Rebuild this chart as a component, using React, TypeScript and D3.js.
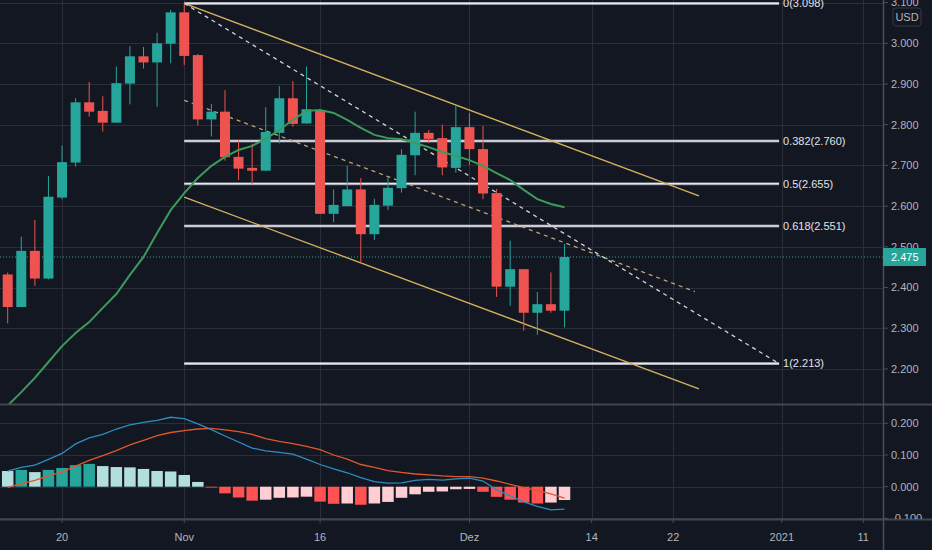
import * as d3 from "d3";

// daily candles, index 0 = first visible session
const opens = [2.432, 2.352, 2.49, 2.422, 2.621, 2.707, 2.855, 2.834, 2.805, 2.901, 2.968, 2.953, 2.999, 3.076, 2.971, 2.813, 2.832, 2.721, 2.694, 2.687, 2.78, 2.865, 2.803, 2.836, 2.581, 2.6, 2.641, 2.531, 2.601, 2.644, 2.725, 2.78, 2.767, 2.694, 2.794, 2.74, 2.632, 2.402, 2.445, 2.338, 2.359, 2.343];
const highs = [2.437, 2.525, 2.566, 2.674, 2.749, 2.865, 2.905, 2.87, 2.943, 2.993, 2.991, 3.026, 3.082, 3.098, 2.974, 2.851, 2.885, 2.761, 2.753, 2.843, 2.895, 2.907, 2.943, 2.836, 2.641, 2.699, 2.669, 2.618, 2.671, 2.74, 2.832, 2.787, 2.8, 2.848, 2.829, 2.797, 2.642, 2.515, 2.445, 2.389, 2.437, 2.507];
const lows = [2.312, 2.352, 2.404, 2.42, 2.617, 2.697, 2.82, 2.783, 2.805, 2.85, 2.938, 2.844, 2.951, 2.947, 2.798, 2.771, 2.712, 2.664, 2.654, 2.687, 2.754, 2.795, 2.803, 2.581, 2.56, 2.6, 2.461, 2.517, 2.59, 2.633, 2.676, 2.754, 2.676, 2.682, 2.701, 2.617, 2.377, 2.355, 2.294, 2.283, 2.338, 2.302];
const closes = [2.352, 2.49, 2.422, 2.623, 2.708, 2.855, 2.832, 2.805, 2.902, 2.968, 2.953, 3.0, 3.076, 2.969, 2.813, 2.832, 2.72, 2.692, 2.687, 2.782, 2.865, 2.802, 2.838, 2.581, 2.603, 2.641, 2.531, 2.603, 2.645, 2.726, 2.78, 2.765, 2.695, 2.794, 2.74, 2.631, 2.402, 2.445, 2.338, 2.359, 2.343, 2.475];
const movingAvg = [2.11, 2.143, 2.178, 2.217, 2.256, 2.288, 2.315, 2.35, 2.384, 2.431, 2.475, 2.534, 2.59, 2.632, 2.669, 2.699, 2.721, 2.738, 2.748, 2.765, 2.787, 2.812, 2.834, 2.836, 2.829, 2.812, 2.792, 2.775, 2.767, 2.764, 2.755, 2.745, 2.733, 2.723, 2.713, 2.699, 2.681, 2.664, 2.64, 2.617, 2.605, 2.597];

// MACD pane
const macdLine = [0.0495, 0.061, 0.068, 0.086, 0.105, 0.135, 0.154, 0.165, 0.182, 0.195, 0.203, 0.209, 0.219, 0.215, 0.198, 0.18, 0.16, 0.141, 0.122, 0.113, 0.108, 0.103, 0.087, 0.07, 0.056, 0.044, 0.029, 0.016, 0.011, 0.012, 0.02, 0.023, 0.021, 0.025, 0.027, 0.018, -0.01, -0.029, -0.048, -0.062, -0.073, -0.071];
const signalLine = [-0.002, 0.009, 0.02, 0.034, 0.046, 0.065, 0.083, 0.098, 0.114, 0.132, 0.146, 0.161, 0.171, 0.177, 0.182, 0.184, 0.179, 0.174, 0.165, 0.152, 0.143, 0.136, 0.127, 0.117, 0.1, 0.087, 0.07, 0.061, 0.051, 0.045, 0.04, 0.037, 0.034, 0.032, 0.032, 0.027, 0.018, 0.007, -0.003, -0.012, -0.023, -0.036];
const histogram = [0.0495, 0.053, 0.046, 0.053, 0.059, 0.068, 0.072, 0.065, 0.062, 0.061, 0.056, 0.0495, 0.048, 0.037, 0.015, -0.002, -0.021, -0.034, -0.044, -0.041, -0.035, -0.034, -0.0315, -0.047, -0.054, -0.053, -0.057, -0.053, -0.048, -0.035, -0.024, -0.016, -0.015, -0.008, -0.007, -0.016, -0.032, -0.041, -0.05, -0.053, -0.05, -0.042];
const histogramBefore = 0.052;

const dateTicks = [
  { i: 4, label: "20" },
  { i: 13, label: "Nov" },
  { i: 23, label: "16" },
  { i: 34, label: "Dez" },
  { i: 43, label: "14" },
  { i: 49, label: "22" },
  { i: 57, label: "2021" },
  { i: 63, label: "11" },
];
const priceTicks = [2.2, 2.3, 2.4, 2.5, 2.6, 2.7, 2.8, 2.9, 3.0, 3.1];
const macdTicks = [-0.1, 0, 0.1, 0.2];

// drawings
const fibLevels = [0, 0.382, 0.5, 0.618, 1];
const fibPrices = [3.098, 2.76, 2.655, 2.551, 2.213];
const fibRange = [13, 56.8];
const channelUpper = [{ i: 13, p: 3.098 }, { i: 50.9, p: 2.625 }];
const channelLower = [{ i: 13, p: 2.622 }, { i: 50.9, p: 2.151 }];
const channelMid = [{ i: 13, p: 2.86 }, { i: 50.6, p: 2.39 }];
const fanLine = [{ i: 13, p: 3.098 }, { i: 56.8, p: 2.213 }];
const lastPrice = 2.475;

const W = 932;
const H = 550;
const axisX = 883;
const paneBottom = 404;
const macdTop = 406;
const macdBottom = 519;

const BG = "#131722";
const GRID = "#2a2e39";
const TEXT = "#b2b5be";
const UP = "#26a69a";
const DOWN = "#ef5350";
const FONT = "'Liberation Sans', Arial, sans-serif";

export default function App() {
  const x = d3.scaleLinear().domain([0, 41]).range([7.7, 564.5]);
  const y = d3.scaleLinear().domain([2.2, 3.0]).range([368.9, 43.3]);
  const ym = d3.scaleLinear().domain([-0.1, 0.2]).range([518.4, 423.3]);
  const bodyW = 10;
  const barW = 11.5;

  const maPath = d3
    .line<number>()
    .x((_, i) => x(i))
    .y((d) => y(d))(movingAvg);
  const macdPath = d3
    .line<number>()
    .x((_, i) => x(i))
    .y((d) => ym(d))(macdLine);
  const signalPath = d3
    .line<number>()
    .x((_, i) => x(i))
    .y((d) => ym(d))(signalLine);

  const trend = (pts: { i: number; p: number }[]) =>
    d3
      .line<{ i: number; p: number }>()
      .x((d) => x(d.i))
      .y((d) => y(d.p))(pts) ?? "";

  const histColor = (v: number, i: number) => {
    const prev = i === 0 ? histogramBefore : histogram[i - 1];
    if (v >= 0) return v > prev ? "#26a69a" : "#b2dfdb";
    return v < prev ? "#ff5252" : "#ffcdd2";
  };

  return (
    <div style={{ position: "fixed", left: 0, top: 0 }}>
      <svg width={W} height={H} style={{ display: "block", background: BG }} fontFamily={FONT}>
        <defs>
          <clipPath id="pricePane">
            <rect x={0} y={0} width={axisX} height={paneBottom} />
          </clipPath>
          <clipPath id="macdPane">
            <rect x={0} y={macdTop} width={axisX} height={macdBottom - macdTop} />
          </clipPath>
          <clipPath id="axisArea">
            <rect x={axisX} y={0} width={W - axisX} height={macdBottom} />
          </clipPath>
        </defs>

        {/* grid */}
        <g stroke={GRID} strokeWidth={1}>
          {dateTicks.map((t) => (
            <line key={t.label} x1={Math.round(x(t.i)) + 0.5} x2={Math.round(x(t.i)) + 0.5} y1={0} y2={macdBottom} />
          ))}
          {priceTicks.map((p) => (
            <line key={p} x1={0} x2={axisX} y1={Math.round(y(p)) + 0.5} y2={Math.round(y(p)) + 0.5} />
          ))}
          {macdTicks.map((v) => (
            <line key={v} x1={0} x2={axisX} y1={Math.round(ym(v)) + 0.5} y2={Math.round(ym(v)) + 0.5} />
          ))}
        </g>

        {/* price pane */}
        <g clipPath="url(#pricePane)">
          {/* fibonacci retracement */}
          {fibPrices.map((p, k) => (
            <g key={k}>
              <line x1={x(fibRange[0])} x2={x(fibRange[1])} y1={y(p)} y2={y(p)} stroke="#787b86" strokeWidth={3} />
              <line x1={x(fibRange[0])} x2={x(fibRange[1])} y1={y(p)} y2={y(p)} stroke="#e6e8ee" strokeWidth={1.6} />
            </g>
          ))}
          {fibPrices.map((p, k) => (
            <text key={k} x={x(fibRange[1]) + 4} y={y(p)} dy="0.35em" fontSize={11} fill="#e0e3eb">
              {`${fibLevels[k]}(${p.toFixed(3)})`}
            </text>
          ))}

          <line x1={0} x2={axisX} y1={y(lastPrice)} y2={y(lastPrice)} stroke={UP} strokeWidth={1} strokeDasharray="1 2" />

          {/* channel */}
          <path d={trend(channelUpper)} stroke="#d4b45c" strokeWidth={1.3} fill="none" />
          <path d={trend(channelLower)} stroke="#d4b45c" strokeWidth={1.3} fill="none" />
          <path d={trend(channelMid)} stroke="#bda572" strokeWidth={1.3} strokeDasharray="4 4" fill="none" />
          <path d={trend(fanLine)} stroke="#d1d4dc" strokeWidth={1.3} strokeDasharray="4 4" fill="none" />

          {/* candles */}
          {opens.map((o, i) => {
            const c = closes[i];
            const col = c >= o ? UP : DOWN;
            const top = y(Math.max(o, c));
            const bot = y(Math.min(o, c));
            return (
              <g key={i}>
                <line x1={x(i)} x2={x(i)} y1={y(highs[i])} y2={y(lows[i])} stroke={col} strokeWidth={1} />
                <rect x={x(i) - bodyW / 2} y={top} width={bodyW} height={Math.max(1, bot - top)} fill={col} />
              </g>
            );
          })}

          <path d={maPath ?? ""} stroke="#3c9b5b" strokeWidth={2} fill="none" />
        </g>

        {/* macd pane */}
        <g clipPath="url(#macdPane)">
          {histogram.map((v, i) => (
            <rect
              key={i}
              x={x(i) - barW / 2}
              y={Math.min(ym(v), ym(0))}
              width={barW}
              height={Math.max(0.8, Math.abs(ym(v) - ym(0)))}
              fill={histColor(v, i)}
            />
          ))}
          <path d={signalPath ?? ""} stroke="#e0582a" strokeWidth={1.3} fill="none" />
          <path d={macdPath ?? ""} stroke="#2a8ec4" strokeWidth={1.3} fill="none" />
        </g>

        {/* separators and axis line */}
        <line x1={0} x2={W} y1={paneBottom + 0.5} y2={paneBottom + 0.5} stroke="#434651" strokeWidth={2} />
        <line x1={0} x2={W} y1={macdBottom + 0.5} y2={macdBottom + 0.5} stroke="#434651" strokeWidth={2} />
        <line x1={axisX + 0.5} x2={axisX + 0.5} y1={0} y2={H} stroke="#4a4e59" strokeWidth={1.5} />

        {/* price axis */}
        <g clipPath="url(#axisArea)" fontSize={11} fill={TEXT}>
          {priceTicks.map((p) => (
            <g key={p}>
              <line x1={axisX} x2={axisX + 5} y1={y(p)} y2={y(p)} stroke="#4a4e59" />
              <text x={axisX + 8} y={y(p)} dy="0.35em">
                {p.toFixed(3)}
              </text>
            </g>
          ))}
          {macdTicks.map((v) => (
            <g key={v}>
              <line x1={axisX} x2={axisX + 5} y1={ym(v)} y2={ym(v)} stroke="#4a4e59" />
              <text x={axisX + 8} y={ym(v)} dy="0.35em">
                {v.toFixed(3)}
              </text>
            </g>
          ))}
        </g>

        {/* currency badge */}
        <rect x={893} y={8} width={28} height={18} rx={3} fill={BG} stroke="#363a45" />
        <text x={907} y={17} dy="0.35em" textAnchor="middle" fontSize={11} fill={TEXT}>
          USD
        </text>

        {/* last price label */}
        <rect x={axisX} y={y(lastPrice) - 9} width={43} height={18} fill={UP} />
        <text x={axisX + 8} y={y(lastPrice)} dy="0.35em" fontSize={11} fill="#ffffff">
          {lastPrice.toFixed(3)}
        </text>

        {/* time axis */}
        {dateTicks.map((t) => (
          <g key={t.label}>
            <line x1={x(t.i)} x2={x(t.i)} y1={macdBottom} y2={macdBottom + 4} stroke="#4a4e59" />
            <text x={x(t.i)} y={537} dy="0.35em" textAnchor="middle" fontSize={11} fill={TEXT}>
              {t.label}
            </text>
          </g>
        ))}
      </svg>
    </div>
  );
}
